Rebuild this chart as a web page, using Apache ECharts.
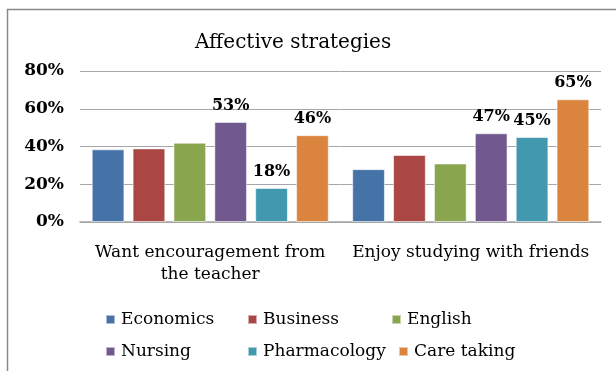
<!DOCTYPE html>
<html>
<head>
<meta charset="utf-8">
<style>
  html, body { margin: 0; padding: 0; background: #fff; }
  #chart { width: 616px; height: 371px; }
</style>
<script src="https://cdn.jsdelivr.net/npm/echarts@6/dist/echarts.min.js"></script>
</head>
<body>
<div id="chart"></div>
<script>
// Survey items (x categories)
const categories = ['Want encouragement from\nthe teacher', 'Enjoy studying with friends'];

// Share of students per faculty (%)
const economics    = [38.5, 28];
const business     = [39, 35.5];
const english      = [42, 31];
const nursing      = [53, 47];
const pharmacology = [18, 45];
const careTaking   = [46, 65];

const yTicks = [0, 20, 40, 60, 80];

const FONT = 'DejaVu Serif';

const seriesDefs = [
  { name: 'Economics',    data: economics,    color: '#4572A7', label: false },
  { name: 'Business',     data: business,     color: '#AA4643', label: false },
  { name: 'English',      data: english,      color: '#89A54E', label: false },
  { name: 'Nursing',      data: nursing,      color: '#71588F', label: true },
  { name: 'Pharmacology', data: pharmacology, color: '#4198AF', label: true },
  { name: 'Care taking',  data: careTaking,   color: '#DB843D', label: true }
];

// legend slots laid out in two rows of three
const legendSlots = [
  { left: 105, top: 311 }, { left: 247, top: 311 }, { left: 391, top: 311 },
  { left: 105, top: 343 }, { left: 247, top: 343 }, { left: 398, top: 343 }
];

const chart = echarts.init(document.getElementById('chart'), null, { renderer: 'canvas' });

chart.setOption({
  animation: false,
  color: seriesDefs.map(s => s.color),
  title: {
    text: 'Affective strategies',
    left: 190,
    top: 28,
    textStyle: { fontFamily: FONT, fontSize: 20, fontWeight: 'normal', color: '#000' }
  },
  graphic: [{
    type: 'rect',
    shape: { x: 7.5, y: 9.5, width: 700, height: 500 },
    style: { fill: 'none', stroke: '#8a8a8a', lineWidth: 1.5 },
    silent: true
  }],
  legend: seriesDefs.map((s, i) => ({
    data: [s.name],
    left: legendSlots[i].left,
    top: legendSlots[i].top,
    icon: 'rect',
    itemWidth: 9,
    itemHeight: 9,
    itemGap: 6,
    padding: 0,
    textStyle: { fontFamily: FONT, fontSize: 17, color: '#000', padding: [0, 0, 0, 1] },
    selectedMode: false
  })),
  grid: { left: 80, right: 15, top: 71, bottom: 149, containLabel: false },
  xAxis: {
    type: 'category',
    data: categories,
    axisTick: { show: false },
    axisLine: { lineStyle: { color: '#a6a6a6', width: 1.5 } },
    axisLabel: {
      fontFamily: FONT, fontSize: 17, color: '#000', margin: 20, lineHeight: 22, interval: 0
    }
  },
  yAxis: {
    type: 'value',
    min: 0,
    max: 80,
    interval: 20,
    axisLine: { show: false },
    axisTick: { show: false },
    splitLine: { lineStyle: { color: '#a6a6a6', width: 1 } },
    axisLabel: {
      fontFamily: FONT, fontSize: 17, fontWeight: 'bold', color: '#000', margin: 16,
      formatter: v => (yTicks.includes(v) ? v + '%' : '')
    }
  },
  series: seriesDefs.map(s => ({
    name: s.name,
    type: 'bar',
    data: s.data,
    barGap: '25%',
    barCategoryGap: '9%',
    itemStyle: { color: s.color, borderColor: 'rgba(255,255,255,0.55)', borderWidth: 1 },
    label: {
      show: s.label,
      position: 'top',
      distance: 8,
      fontFamily: FONT,
      fontSize: 16,
      fontWeight: 'bold',
      color: '#000',
      formatter: p => Math.round(p.value) + '%'
    }
  }))
});
</script>
</body>
</html>
